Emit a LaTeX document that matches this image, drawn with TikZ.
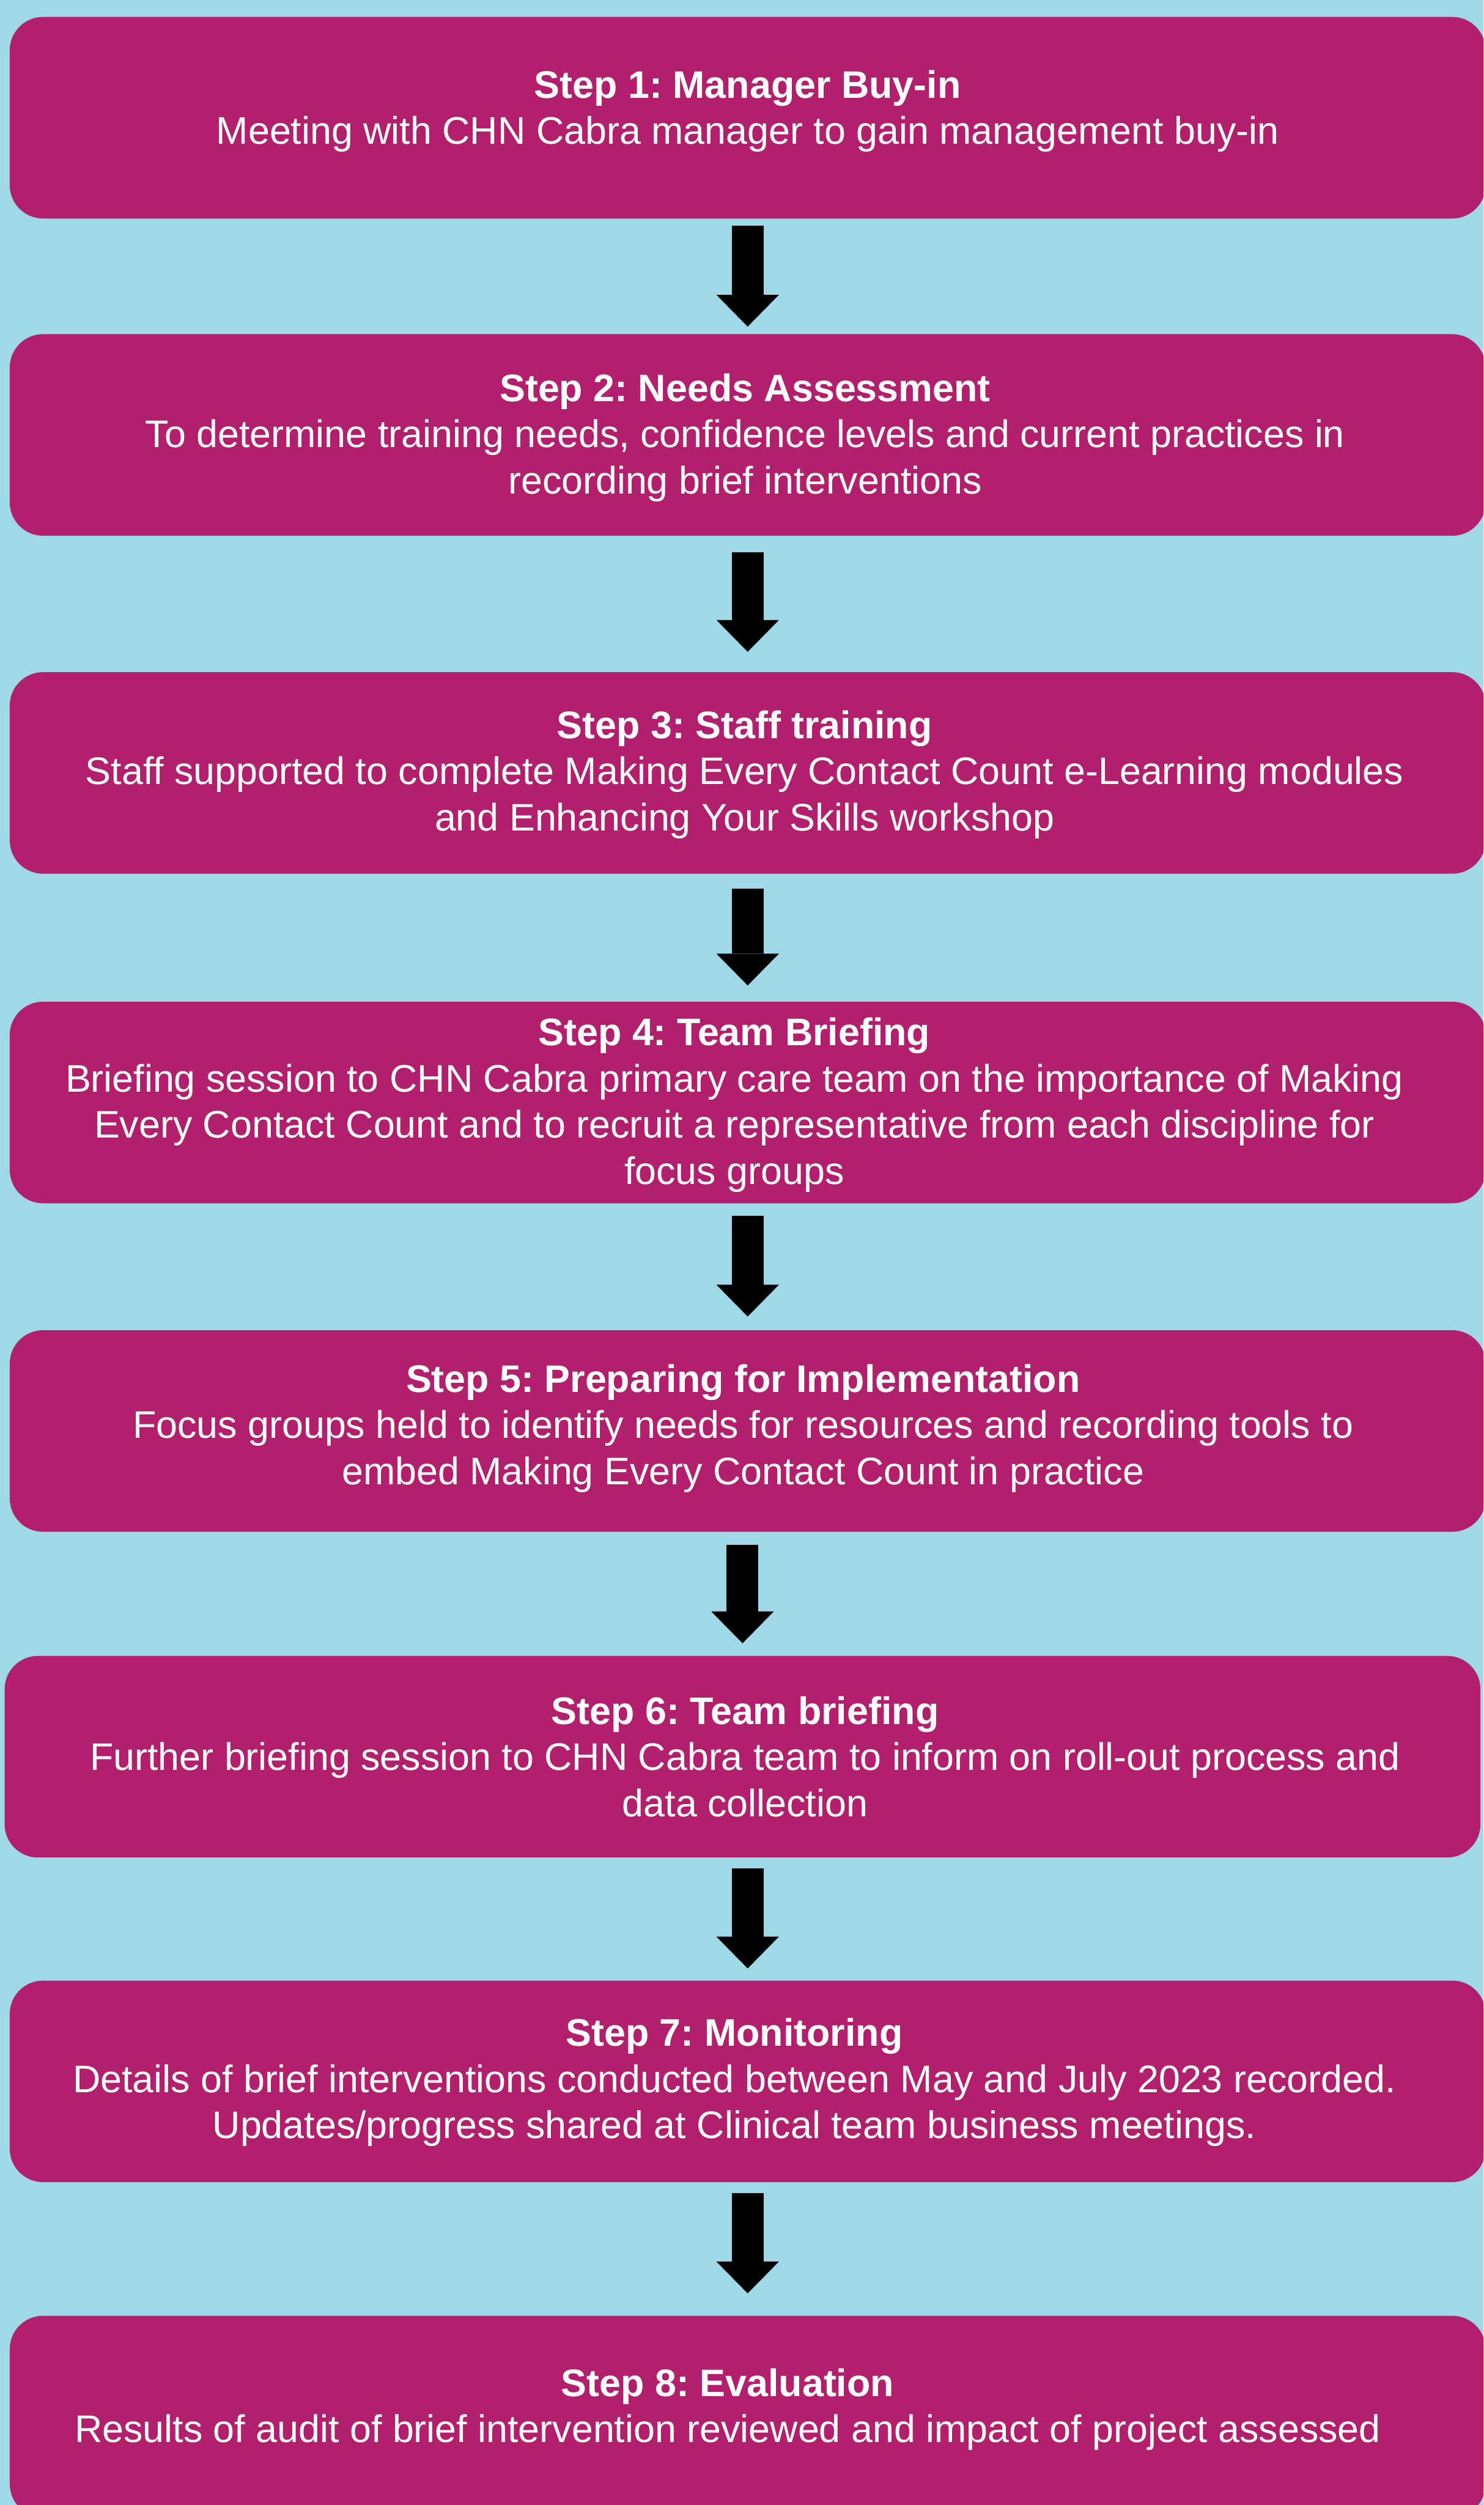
\documentclass[tikz,border=0pt]{standalone}
\usepackage{fontspec}
\setmainfont{Liberation Sans}
\frenchspacing
\usetikzlibrary{arrows.meta}

\definecolor{skyback}{RGB}{159,217,232}
\definecolor{plum}{RGB}{178,31,108}

\tikzset{
  stepbox/.style={fill=plum, rounded corners=0.65cm, minimum width=28.78cm,
    minimum height=3.93cm},
  steptext/.style={text=white, align=center, inner sep=0pt,
    font=\fontsize{21.3}{25.6}\selectfont},
  flowarrow/.style={line width=0.62cm,
    -{Triangle[width=1.22cm,length=0.62cm,line width=0pt]}}
}

\begin{document}
\begin{tikzpicture}
\clip (0,0) rectangle (28.93,-48.84);
\useasboundingbox (0,0) rectangle (28.93,-48.84);
\fill[skyback] (0,0) rectangle (28.93,-48.84);

% the eight step boxes
\node[stepbox] (s1) at (14.58,-2.295) {};
\node[stepbox] (s2) at (14.58,-8.48) {};
\node[stepbox] (s3) at (14.58,-15.07) {};
\node[stepbox] (s4) at (14.58,-21.495) {};
\node[stepbox] (s5) at (14.58,-27.9) {};
\node[stepbox] (s6) at (14.48,-34.25) {};
\node[stepbox] (s7) at (14.58,-40.58) {};
\node[stepbox] (s8) at (14.58,-47.115) {};

% their texts
\node[steptext] (t1) at ([yshift=0.13cm]s1.center) {\textbf{Step 1: Manager Buy-in}\\Meeting with CHN Cabra manager to gain management buy-in};
\node[steptext] (t2) at ([xshift=-0.05cm,yshift=-0.05cm]s2.center) {\textbf{Step 2: Needs Assessment}\\To determine training needs, confidence levels and current practices in\\recording brief interventions};
\node[steptext] (t3) at ([xshift=-0.06cm,yshift=-0.03cm]s3.center) {\textbf{Step 3: Staff training}\\Staff supported to complete Making Every Contact Count e-Learning modules\\and Enhancing Your Skills workshop};
\node[steptext] (t4) at ([xshift=-0.26cm,yshift=-0.05cm]s4.center) {\textbf{Step 4: Team Briefing}\\Briefing session to CHN Cabra primary care team on the importance of Making\\Every Contact Count and to recruit a representative from each discipline for\\focus groups};
\node[steptext] (t5) at ([xshift=-0.09cm,yshift=0.05cm]s5.center) {\textbf{Step 5: Preparing for Implementation}\\Focus groups held to identify needs for resources and recording tools to\\embed Making Every Contact Count in practice};
\node[steptext] (t6) at ([xshift=0.05cm]s6.center) {\textbf{Step 6: Team briefing}\\Further briefing session to CHN Cabra team to inform on roll-out process and\\data collection};
\node[steptext] (t7) at ([xshift=-0.26cm,yshift=-0.02cm]s7.center) {\textbf{Step 7: Monitoring}\\Details of brief interventions conducted between May and July 2023 recorded.\\Updates/progress shared at Clinical team business meetings.};
\node[steptext] (t8) at ([xshift=-0.39cm,yshift=0.14cm]s8.center) {\textbf{Step 8: Evaluation}\\Results of audit of brief intervention reviewed and impact of project assessed};

% arrows between steps
\foreach \a/\b/\s/\e in {s1/s2/0.13/0.14, s2/s3/0.31/0.39, s3/s4/0.28/0.31,
                         s4/s5/0.24/0.26, s5/s6/0.25/0.24, s6/s7/0.20/0.23,
                         s7/s8/0.21/0.43}
  \draw[flowarrow, shorten <=\s cm, shorten >=\e cm] (\a.south -| \b.north) -- (\b.north);
\end{tikzpicture}
\end{document}
